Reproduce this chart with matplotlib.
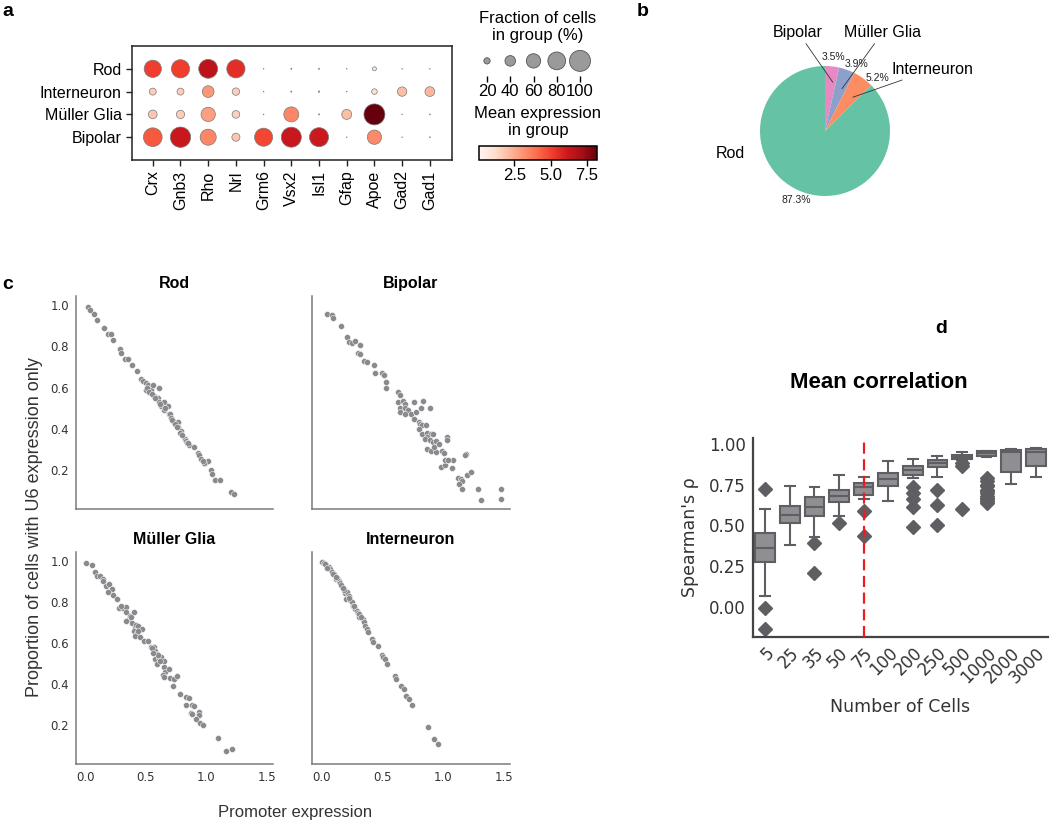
import numpy as np
import matplotlib
matplotlib.use("Agg")
import matplotlib.pyplot as plt
from matplotlib import cm, colors as mcolors

W, H = 1050, 823
plt.rcParams['font.family'] = ['Liberation Sans', 'DejaVu Sans']

# ---------------- data: panel a (dot plot) ----------------
genes = ['Crx', 'Gnb3', 'Rho', 'Nrl', 'Grm6', 'Vsx2', 'Isl1', 'Gfap', 'Apoe', 'Gad2', 'Gad1']
groups = ['Rod', 'Interneuron', 'Müller Glia', 'Bipolar']
frac_rod = [77, 83, 87, 83, 1, 2, 2, 1, 11, 1, 1]
frac_inter = [23, 23, 46, 25, 1, 2, 3, 1, 17, 34, 36]
frac_muller = [31, 29, 60, 26, 1, 64, 2, 37, 100, 1, 1.5]
frac_bipolar = [86, 96, 70, 28, 82, 94, 88, 1, 60, 1, 1.5]
expr_rod = [5.1, 5.1, 6.6, 5.5, 0.1, 0.2, 0.2, 0.1, 0.8, 0.1, 0.1]
expr_inter = [1.6, 1.6, 3.0, 1.6, 0.1, 0.2, 0.3, 0.1, 1.0, 2.0, 2.2]
expr_muller = [1.8, 1.6, 2.8, 1.5, 0.1, 3.4, 0.2, 2.0, 8.2, 0.1, 0.1]
expr_bipolar = [4.5, 6.2, 3.4, 1.8, 4.9, 6.2, 6.1, 0.1, 3.3, 0.1, 0.1]
legend_sizes = [20, 40, 60, 80, 100]
cbar_ticks = [2.5, 5.0, 7.5]

# ---------------- data: panel b (pie) ----------------
pie_labels = ['Bipolar', 'Müller Glia', 'Interneuron', 'Rod']
pie_values = [3.5, 3.9, 5.2, 87.3]
pie_colors = ['#e78ac3', '#8da0cb', '#fc8d62', '#66c2a5']

# ---------------- data: panel c (scatter) ----------------
rod_points = [(0.02, 0.99), (0.04, 0.98), (0.07, 0.96), (0.10, 0.93), (0.16, 0.89), (0.19, 0.86),
              (0.21, 0.86), (0.23, 0.83), (0.29, 0.79), (0.30, 0.77), (0.33, 0.74), (0.35, 0.74),
              (0.39, 0.71), (0.43, 0.68), (0.46, 0.64), (0.48, 0.63), (0.50, 0.62), (0.52, 0.61),
              (0.54, 0.60), (0.50, 0.59), (0.54, 0.59), (0.56, 0.61), (0.61, 0.60), (0.57, 0.56),
              (0.60, 0.55), (0.61, 0.53), (0.65, 0.53), (0.68, 0.51), (0.63, 0.51), (0.65, 0.49),
              (0.69, 0.47), (0.70, 0.47), (0.71, 0.45), (0.73, 0.43), (0.75, 0.42), (0.77, 0.43),
              (0.77, 0.41), (0.79, 0.39), (0.78, 0.38), (0.82, 0.35), (0.83, 0.34), (0.84, 0.33),
              (0.86, 0.32), (0.90, 0.31), (0.93, 0.28), (0.94, 0.27), (0.96, 0.25), (0.99, 0.23),
              (1.01, 0.24), (0.98, 0.23), (1.04, 0.20), (1.05, 0.18), (1.07, 0.15), (1.11, 0.15),
              (1.20, 0.09), (1.23, 0.08), (0.51, 0.60), (0.53, 0.58), (0.55, 0.57), (0.58, 0.55),
              (0.62, 0.52), (0.66, 0.50), (0.72, 0.44), (0.74, 0.42), (0.76, 0.41), (0.80, 0.37),
              (0.85, 0.33), (0.97, 0.24)]
bipolar_points = [(0.05, 0.96), (0.09, 0.955), (0.10, 0.94), (0.16, 0.90), (0.21, 0.845), (0.23, 0.82),
                  (0.25, 0.815), (0.28, 0.825), (0.32, 0.805), (0.30, 0.77), (0.32, 0.765), (0.35, 0.73),
                  (0.38, 0.725), (0.43, 0.71), (0.44, 0.67), (0.50, 0.67), (0.52, 0.66), (0.53, 0.625),
                  (0.53, 0.60), (0.63, 0.58), (0.65, 0.565), (0.63, 0.53), (0.67, 0.535), (0.69, 0.52),
                  (0.65, 0.50), (0.69, 0.50), (0.71, 0.49), (0.76, 0.53), (0.84, 0.535), (0.89, 0.50),
                  (0.82, 0.50), (0.74, 0.47), (0.78, 0.48), (0.65, 0.48), (0.69, 0.47), (0.76, 0.445),
                  (0.80, 0.43), (0.81, 0.42), (0.83, 0.415), (0.86, 0.415), (0.80, 0.40), (0.83, 0.375),
                  (0.87, 0.38), (0.90, 0.375), (0.92, 0.375), (0.87, 0.36), (0.85, 0.35), (0.89, 0.345),
                  (0.92, 0.335), (0.94, 0.34), (0.87, 0.30), (0.90, 0.29), (0.94, 0.285), (0.93, 0.31),
                  (0.97, 0.325), (0.99, 0.29), (1.01, 0.28), (1.03, 0.36), (1.03, 0.345), (0.98, 0.215),
                  (1.02, 0.22), (1.07, 0.21), (1.08, 0.245), (1.02, 0.245), (1.04, 0.245), (1.19, 0.275),
                  (1.18, 0.27), (1.12, 0.16), (1.15, 0.155), (1.16, 0.145), (1.13, 0.13), (1.16, 0.105),
                  (1.20, 0.175), (1.23, 0.19), (1.29, 0.105), (1.31, 0.05), (1.48, 0.105), (1.48, 0.055)]
muller_points = [(0.01, 0.99), (0.055, 0.98), (0.08, 0.95), (0.10, 0.93), (0.12, 0.93), (0.15, 0.915),
                 (0.15, 0.905), (0.17, 0.88), (0.20, 0.89), (0.22, 0.865), (0.19, 0.85), (0.23, 0.835),
                 (0.26, 0.815), (0.28, 0.77), (0.31, 0.77), (0.34, 0.775), (0.34, 0.75), (0.36, 0.72),
                 (0.37, 0.735), (0.40, 0.75), (0.34, 0.71), (0.39, 0.70), (0.41, 0.675), (0.42, 0.69),
                 (0.44, 0.685), (0.47, 0.67), (0.40, 0.66), (0.43, 0.65), (0.41, 0.635), (0.455, 0.63),
                 (0.49, 0.61), (0.515, 0.61), (0.54, 0.58), (0.57, 0.58), (0.58, 0.56), (0.59, 0.545),
                 (0.58, 0.52), (0.61, 0.525), (0.63, 0.53), (0.65, 0.51), (0.59, 0.50), (0.65, 0.485),
                 (0.66, 0.46), (0.69, 0.475), (0.64, 0.445), (0.65, 0.435), (0.70, 0.43), (0.73, 0.425),
                 (0.76, 0.44), (0.725, 0.39), (0.78, 0.35), (0.83, 0.335), (0.86, 0.33), (0.83, 0.295),
                 (0.88, 0.295), (0.90, 0.29), (0.87, 0.26), (0.88, 0.255), (0.94, 0.265), (0.94, 0.25),
                 (0.915, 0.23), (0.945, 0.21), (0.97, 0.20), (1.10, 0.135), (1.165, 0.07), (1.21, 0.08),
                 (0.55, 0.575), (0.60, 0.54), (0.62, 0.51), (0.56, 0.55), (0.44, 0.66), (0.38, 0.73),
                 (0.30, 0.78)]
inter_points = [(0.006, 0.995), (0.025, 0.99), (0.041, 0.98), (0.061, 0.974), (0.074, 0.961), (0.088, 0.948),
                (0.107, 0.936), (0.124, 0.915), (0.143, 0.904), (0.152, 0.892), (0.171, 0.876), (0.185, 0.863),
                (0.198, 0.846), (0.212, 0.850), (0.226, 0.833), (0.207, 0.817), (0.240, 0.810), (0.253, 0.800),
                (0.262, 0.784), (0.281, 0.768), (0.295, 0.756), (0.300, 0.745), (0.308, 0.729), (0.344, 0.719),
                (0.355, 0.703), (0.364, 0.683), (0.377, 0.667), (0.386, 0.654), (0.419, 0.621), (0.427, 0.605),
                (0.465, 0.588), (0.501, 0.544), (0.510, 0.533), (0.521, 0.520), (0.537, 0.500), (0.603, 0.438),
                (0.614, 0.425), (0.653, 0.392), (0.680, 0.376), (0.694, 0.343), (0.722, 0.327), (0.744, 0.299),
                (0.879, 0.190), (0.928, 0.131), (0.956, 0.106), (0.03, 0.985), (0.05, 0.97), (0.10, 0.94),
                (0.13, 0.92), (0.16, 0.885), (0.19, 0.86), (0.23, 0.82), (0.27, 0.78), (0.31, 0.74),
                (0.33, 0.73), (0.12, 0.925), (0.18, 0.87)]
panel_c_titles = ['Rod', 'Bipolar', 'Müller Glia', 'Interneuron']
panel_c_points = [rod_points, bipolar_points, muller_points, inter_points]

# ---------------- data: panel d (box plot statistics) ----------------
n_cells = ['5', '25', '35', '50', '75', '100', '200', '250', '500', '1000', '2000', '3000']
box_whislo = [0.066, 0.38, 0.429, 0.56, 0.665, 0.647, 0.79, 0.80, 0.90, 0.92, 0.754, 0.797]
box_q1 = [0.278, 0.513, 0.56, 0.643, 0.689, 0.744, 0.811, 0.858, 0.908, 0.928, 0.83, 0.867]
box_med = [0.36, 0.565, 0.613, 0.683, 0.736, 0.785, 0.838, 0.882, 0.922, 0.945, 0.948, 0.954]
box_q3 = [0.453, 0.62, 0.674, 0.715, 0.76, 0.822, 0.867, 0.899, 0.933, 0.955, 0.963, 0.968]
box_whishi = [0.60, 0.745, 0.733, 0.81, 0.795, 0.893, 0.908, 0.928, 0.948, 0.96, 0.97, 0.978]
box_fliers = [[0.725, -0.01, -0.137], [], [0.392, 0.21], [0.515], [0.586, 0.436], [],
              [0.736, 0.70, 0.662, 0.61, 0.487], [0.719, 0.627, 0.504], [0.883, 0.862, 0.60],
              [0.79, 0.77, 0.75, 0.74, 0.72, 0.71, 0.70, 0.68, 0.67, 0.66, 0.65, 0.64], [], []]
cutoff_label = '75'


def rect(l, t, r, b):
    return [l / W, 1 - b / H, (r - l) / W, (b - t) / H]


fig = plt.figure(figsize=(W / 100, H / 100), dpi=100)

# ================= panel a =================
ax = fig.add_axes(rect(132, 46, 452, 160))
cmap = plt.get_cmap('Reds')
norm = mcolors.Normalize(vmin=0.05, vmax=8.2)
SMAX = 228
fracs = [frac_rod, frac_inter, frac_muller, frac_bipolar]
exprs = [expr_rod, expr_inter, expr_muller, expr_bipolar]
for i, (fr, ex) in enumerate(zip(fracs, exprs)):
    fr = np.array(fr) / 100.0
    ax.scatter(np.arange(len(genes)), np.full(len(genes), i), s=fr ** 1.5 * SMAX, c=ex,
               cmap=cmap, norm=norm, edgecolors='#7a7a7a', linewidths=0.5, zorder=3)
ax.set_xlim(-0.75, 10.8)
ax.set_ylim(4.0, -1.0)
ax.set_xticks(range(len(genes)))
ax.set_xticklabels(genes, rotation=90, fontsize=11.5)
ax.set_yticks(range(len(groups)))
ax.set_yticklabels(groups, fontsize=11.5)
ax.tick_params(length=4, width=1, color='#222222')
for sp in ax.spines.values():
    sp.set_linewidth(1.1)
    sp.set_color('#222222')

# size legend
axl = fig.add_axes(rect(470, 48, 605, 76))
ls = np.array(legend_sizes) / 100.0
axl.scatter(legend_sizes, [0.54] * len(legend_sizes), s=ls ** 1.5 * SMAX, color='#9a9a9a',
            edgecolors='#555555', linewidths=0.6, clip_on=False)
axl.set_xlim(5.38, 121.5)
axl.set_ylim(0, 1)
for sp in axl.spines.values():
    sp.set_visible(False)
axl.set_yticks([])
axl.set_xticks(legend_sizes)
axl.set_xticklabels([str(v) for v in legend_sizes], fontsize=12)
axl.tick_params(axis='x', length=4, width=1, pad=2)
axl.patch.set_alpha(0)
fig.text(538 / W, 1 - 27 / H, 'Fraction of cells\nin group (%)', ha='center', va='center',
         fontsize=12, linespacing=1.15)

# colorbar
cax = fig.add_axes(rect(479, 146, 597, 160))
cb = fig.colorbar(cm.ScalarMappable(norm=norm, cmap=cmap), cax=cax, orientation='horizontal',
                  ticks=cbar_ticks)
cb.set_ticklabels([f'{t:.1f}' for t in cbar_ticks])
cax.tick_params(labelsize=12, length=4, width=1, pad=2)
cb.outline.set_linewidth(1.1)
fig.text(538 / W, 1 - 122 / H, 'Mean expression\nin group', ha='center', va='center',
         fontsize=12, linespacing=1.15)

# ================= panel b =================
axb = fig.add_axes(rect(695, 1, 955, 261))
tot = sum(pie_values)
wedges, _, autotexts = axb.pie(pie_values, colors=pie_colors, startangle=90, counterclock=False,
                               autopct=lambda p: f'{p * tot / 100:.1f}%', pctdistance=1.15,
                               textprops=dict(fontsize=7.5, color='#222222'),
                               wedgeprops=dict(linewidth=0))
autotexts[1].set_position((0.48, 1.03))
autotexts[2].set_position((0.80, 0.815))
axb.set_xlim(-2, 2)
axb.set_ylim(-2, 2)
axb.set_aspect('equal')
axb.axis('off')
ann = dict(arrowstyle='-', color='#333333', lw=0.6, shrinkA=1, shrinkB=0)
axb.annotate(pie_labels[0], xy=(0.12, 0.75), xytext=(-0.415, 1.52), ha='center', va='center',
             fontsize=11.5, arrowprops=ann)
axb.annotate(pie_labels[1], xy=(0.26, 0.65), xytext=(0.89, 1.52), ha='center', va='center',
             fontsize=11.5, arrowprops=ann)
axb.annotate(pie_labels[2], xy=(0.43, 0.52), xytext=(1.66, 0.95), ha='center', va='center',
             fontsize=11.5, arrowprops=ann)
axb.text(-1.45, -0.34, pie_labels[3], ha='center', va='center', fontsize=11.5)

# ================= panel c =================
c_rects = [rect(76, 296, 273, 509), rect(312, 296, 510, 509),
           rect(76, 552, 273, 764), rect(312, 552, 510, 764)]
for k, (r, title, pts) in enumerate(zip(c_rects, panel_c_titles, panel_c_points)):
    axc = fig.add_axes(r)
    xs = [p[0] for p in pts]
    ys = [p[1] for p in pts]
    axc.scatter(xs, ys, s=19, color='#8a8a8e', edgecolors='white', linewidths=0.35, zorder=3)
    axc.set_xlim(-0.075, 1.55)
    axc.set_ylim(0.008, 1.046)
    axc.set_xticks([0.0, 0.5, 1.0, 1.5])
    axc.set_yticks([0.2, 0.4, 0.6, 0.8, 1.0])
    axc.tick_params(length=0, labelsize=8.5, labelcolor='#333333', pad=5)
    for lab in axc.get_xticklabels() + axc.get_yticklabels():
        lab.set_family('DejaVu Sans')
    if k < 2:
        axc.set_xticklabels([])
    if k % 2 == 1:
        axc.set_yticklabels([])
    for s in ['top', 'right']:
        axc.spines[s].set_visible(False)
    for s in ['left', 'bottom']:
        axc.spines[s].set_color('#7a7a7a')
        axc.spines[s].set_linewidth(1.1)
    axc.set_title(title, fontsize=11.5, fontweight='bold', pad=6)
fig.text(295 / W, 1 - 813 / H, 'Promoter expression', ha='center', va='center', fontsize=12,
         color='#333333')
fig.text(35 / W, 1 - 527 / H, 'Proportion of cells with U6 expression only', ha='center',
         va='center', rotation=90, fontsize=13, color='#333333')

# ================= panel d =================
axd = fig.add_axes(rect(753, 438, 1048, 637))
stats = [dict(label=l, whislo=a, q1=b, med=c, q3=d, whishi=e, fliers=f)
         for l, a, b, c, d, e, f in zip(n_cells, box_whislo, box_q1, box_med, box_q3, box_whishi, box_fliers)]
edge = '#5f5f63'
axd.bxp(stats, positions=np.arange(len(n_cells)), widths=0.8, patch_artist=True,
        boxprops=dict(facecolor='#8f8f93', edgecolor=edge, linewidth=1.5),
        medianprops=dict(color=edge, linewidth=1.5),
        whiskerprops=dict(color=edge, linewidth=1.5),
        capprops=dict(color=edge, linewidth=1.5),
        flierprops=dict(marker='D', markerfacecolor=edge, markeredgecolor=edge, markersize=7))
axd.set_xlim(-0.5, len(n_cells) - 0.5)
axd.set_ylim(-0.186, 1.037)
axd.axvline(n_cells.index(cutoff_label), ymin=0, ymax=0.978, color='#ee1c1c', lw=1.6,
            dashes=(5, 2.5), zorder=5)
axd.set_yticks([0.0, 0.25, 0.5, 0.75, 1.0])
axd.set_yticklabels(['0.00', '0.25', '0.50', '0.75', '1.00'])
axd.set_xticks(np.arange(len(n_cells)))
axd.set_xticklabels(n_cells)
axd.tick_params(length=0, labelsize=12, labelcolor='#333333', pad=5)
for lab in axd.get_xticklabels():
    lab.set_rotation(45)
    lab.set_ha('right')
    lab.set_rotation_mode('anchor')
for lab in axd.get_xticklabels() + axd.get_yticklabels():
    lab.set_family('DejaVu Sans')
for s in ['top', 'right']:
    axd.spines[s].set_visible(False)
for s in ['left', 'bottom']:
    axd.spines[s].set_color('#444444')
    axd.spines[s].set_linewidth(1.6)
axd.set_ylabel("Spearman's ρ", fontsize=12.5, color='#333333', family='DejaVu Sans', labelpad=7)
axd.set_xlabel('Number of Cells', fontsize=12.5, color='#333333', family='DejaVu Sans', labelpad=8)
fig.text(879 / W, 1 - 383 / H, 'Mean correlation', ha='center', va='center', fontsize=16,
         fontweight='bold')

# panel letters
for letter, (px, py) in zip('abcd', [(2, 3), (637, 3), (2, 276), (935, 320)]):
    fig.text(px / W, 1 - py / H, letter, ha='left', va='top', fontsize=14, fontweight='bold')

fig.savefig('out.png', dpi=100)
